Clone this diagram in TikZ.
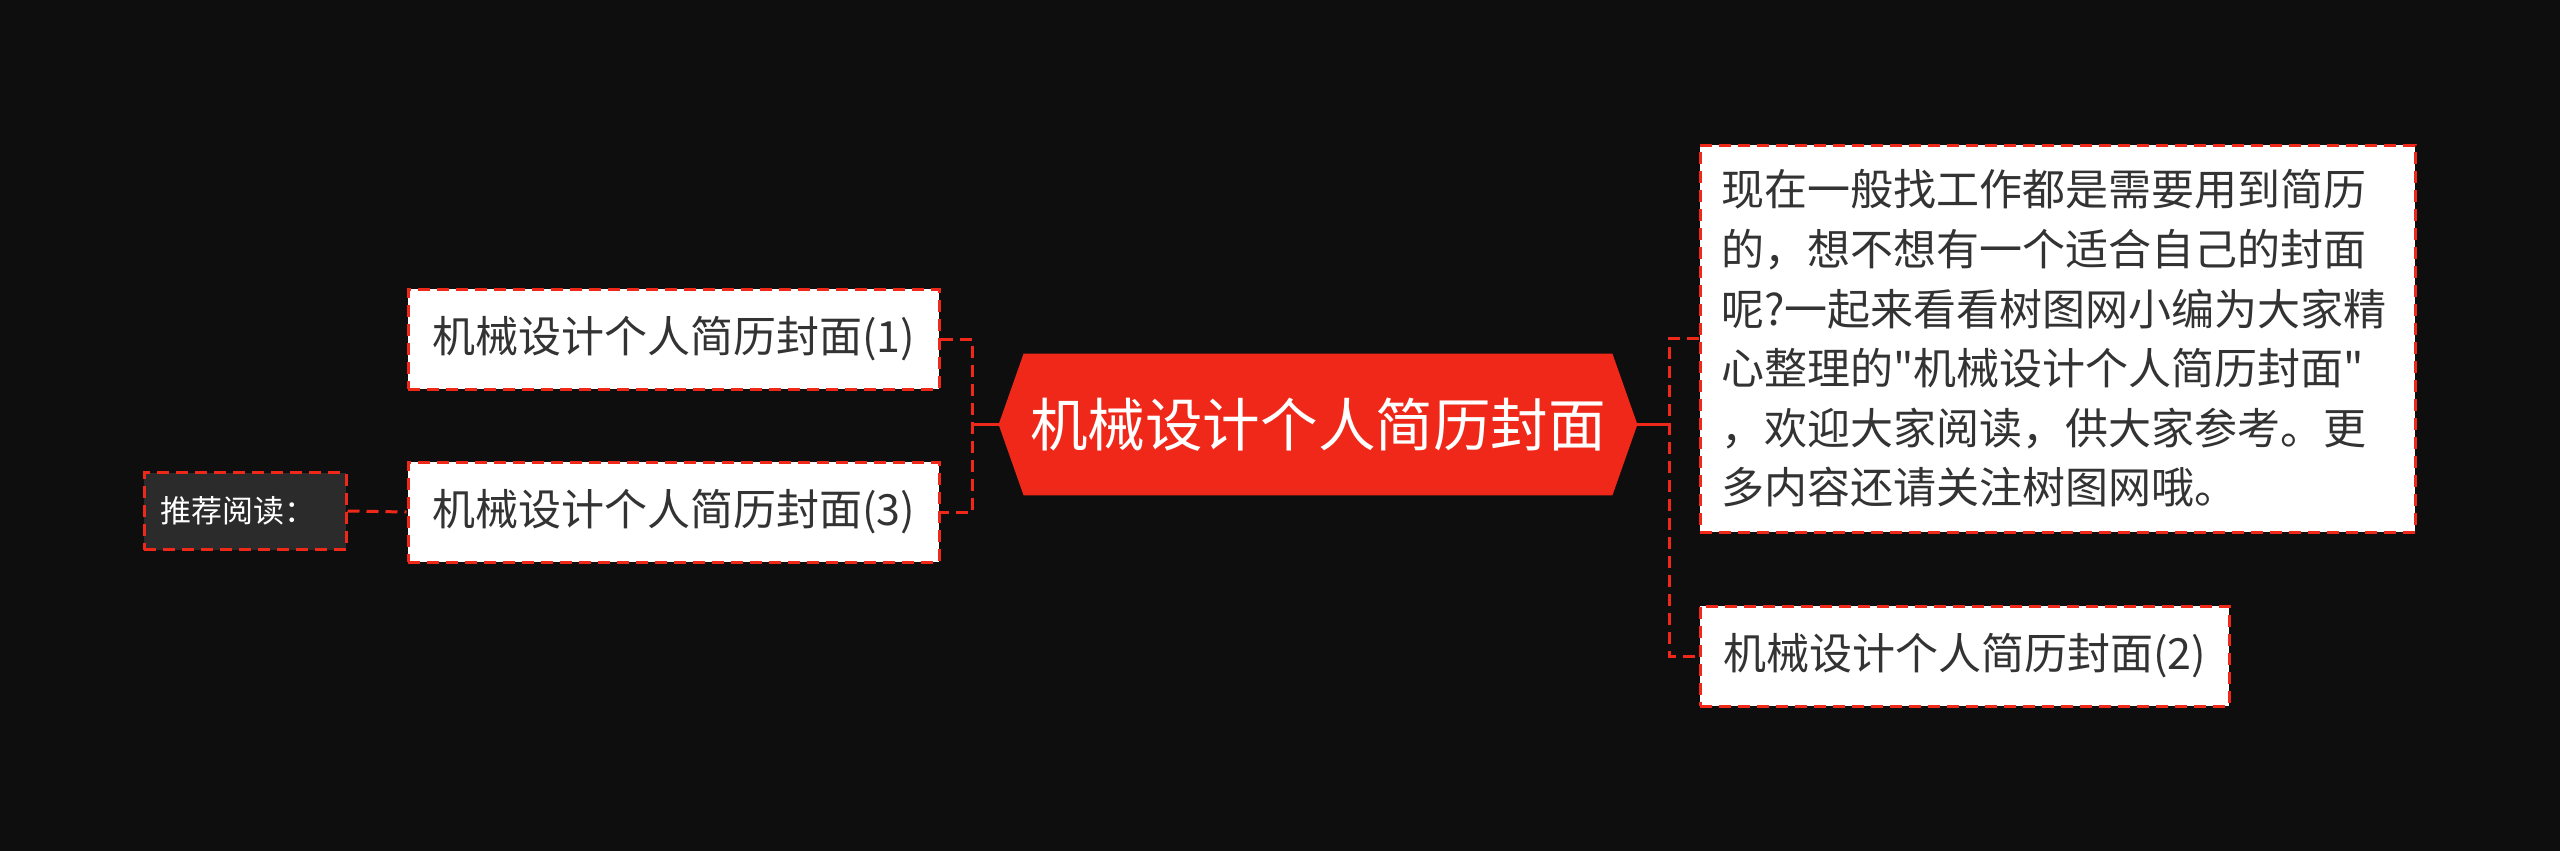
\documentclass[tikz,border=0pt]{standalone}
\usepackage{fontspec}
\setmainfont{Noto Sans CJK SC}
\newfontfamily\cjk{Noto Sans CJK SC}
\usetikzlibrary{backgrounds}
\definecolor{bgc}{HTML}{0E0E0E}
\definecolor{mred}{HTML}{F0281A}
\definecolor{txt}{HTML}{333333}
\definecolor{recfill}{HTML}{2B2B2B}
\tikzset{
  leaf/.style={draw=mred, line width=1.5pt, dash pattern=on 6pt off 3.5pt, fill=white,
    text=txt, font=\cjk\fontsize{21.5pt}{29.8pt}\selectfont, inner sep=0pt,
    minimum height=50pt},
  recbox/.style={draw=mred, line width=1.5pt, dash pattern=on 6pt off 3.5pt, fill=recfill,
    text=white, font=\cjk\fontsize{15.5pt}{18pt}\selectfont, inner xsep=8pt, inner ysep=0pt,
    minimum height=38.5pt, text width=85pt, align=left},
  dashlink/.style={draw=mred, line width=1.5pt, dash pattern=on 6pt off 3.5pt},
  solidlink/.style={draw=mred, line width=1.5pt},
}
\begin{document}
\begin{tikzpicture}[x=0.5pt,y=-0.5pt]
\useasboundingbox (0,0) rectangle (2560,851);
\begin{scope}[on background layer]
\fill[bgc] (0,0) rectangle (2560,851);
\end{scope}

% central topic
\node[inner sep=0pt, minimum width=319pt, minimum height=70.5pt, text=white,
  font=\cjk\fontsize{28.8pt}{32pt}\selectfont] (c) at (1318,424.5) {机械设计个人简历封面};
\begin{scope}[on background layer]
\fill[mred] (c.west) -- ([xshift=12.5pt]c.north west) -- ([xshift=-12.5pt]c.north east)
  -- (c.east) -- ([xshift=-12.5pt]c.south east) -- ([xshift=12.5pt]c.south west) -- cycle;
\end{scope}

% left branch
\node[leaf, minimum width=265.5pt] (l1) at (673.5,339) {机械设计个人简历封面(1)};
\node[leaf, minimum width=265.5pt] (l3) at (673.5,512) {机械设计个人简历封面(3)};
\node[recbox] (rec) at (245,511) {推荐阅读：};

% right branch
\node[draw=mred, line width=1.5pt, dash pattern=on 6pt off 3.5pt, fill=white, text=txt,
  font=\cjk\fontsize{21.5pt}{29.8pt}\selectfont, inner xsep=10.5pt, inner ysep=0pt,
  text width=336.5pt, align=left, minimum height=193.5pt] (r1) at (2057.5,338.5)
  {现在一般找工作都是需要用到简历\\的，想不想有一个适合自己的封面\\呢?一起来看看树图网小编为大家精\\心整理的"机械设计个人简历封面"\\，欢迎大家阅读，供大家参考。更\\多内容还请关注树图网哦。};
\node[leaf, minimum width=264.5pt] (r2) at (1964.5,656) {机械设计个人简历封面(2)};

% connectors
\coordinate (lbus) at (972,424.5);
\coordinate (rbus) at (1669,424.5);
\draw[solidlink] (c.west) -- (lbus);
\draw[solidlink] (c.east) -- (rbus);
\draw[dashlink] (l1.east) -- (lbus |- l1.east) -- (lbus |- l3.east) -- (l3.east);
\draw[dashlink] (r1.west) -- (rbus |- r1.west) -- (rbus |- r2.west) -- (r2.west);
\draw[dashlink] (rec.east) -- (l3.west);
\end{tikzpicture}
\end{document}
